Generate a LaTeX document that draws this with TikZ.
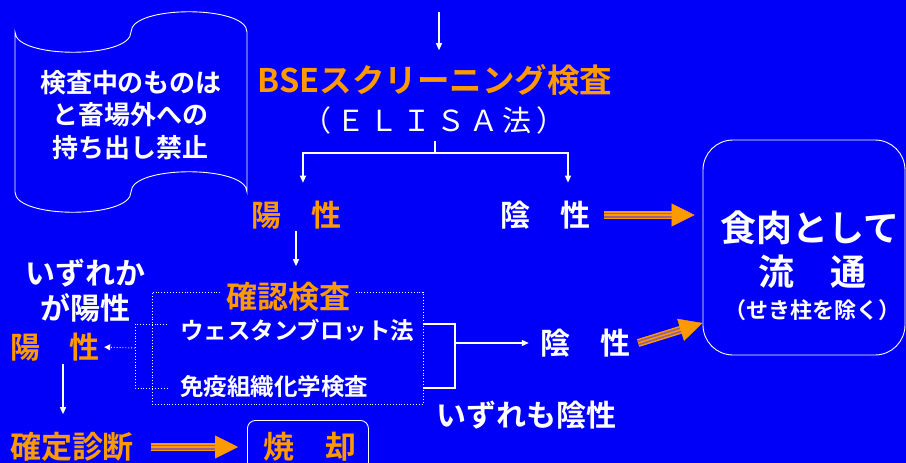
\documentclass[tikz,border=0pt]{standalone}
\usepackage{fontspec}
\newfontfamily\jp{Noto Sans CJK JP}[BoldFont={Noto Sans CJK JP Bold}]
\usetikzlibrary{arrows.meta}

\definecolor{bgblue}{RGB}{0,0,250}
\definecolor{ora}{RGB}{255,153,0}
\definecolor{stripe}{RGB}{150,95,150}

\begin{document}
\begin{tikzpicture}[x=1pt, y=-1pt,
    jt/.style 2 args={inner sep=0pt, align=center, font=\jp\bfseries\fontsize{#1}{#2}\selectfont},
    wline/.style={draw=white, line width=1.1pt},
    arr/.style={wline, -{Triangle[length=7pt,width=6pt]}},
    dotline/.style={draw=white, line width=0.9pt, dotted},
    dotarr/.style={dotline, -{Triangle[length=6pt,width=6pt]}},
    tri/.style={draw=ora, line width=1.5pt, shorten >=21pt,
        preaction={draw=ora, line width=1.5pt, double=stripe, double distance=5pt},
        postaction={draw=ora, line width=0.4pt, shorten >=0pt, -{Triangle[length=23pt,width=23pt]}}}]

% Background
\fill[bgblue] (0,0) rectangle (906,463);
\useasboundingbox (0,0) rectangle (906,463);

% Wavy note at top left
\draw[white, line width=0.9pt] (15,32) .. controls (15,59) and (131,59) .. (131,32)
    .. controls (131,5) and (247,5) .. (247,32) -- (247,192)
    .. controls (247,165) and (131,165) .. (131,192)
    .. controls (131,219) and (15,219) .. (15,192) -- cycle;
\node[jt={26}{32.5}, text=white] (rule) at (131,115) {検査中のものは\\と畜場外への\\持ち出し禁止};

% Screening
\coordinate (top) at (439,12);
\node[jt={32.5}{36}, text=ora] (bse) at (435,80) {BSEスクリーニング検査};
\node[inner sep=0pt, text=white, font=\jp\fontsize{29}{35}\selectfont\addfontfeature{LetterSpace=15}] (elisa) at (434,120) {（ＥＬＩＳＡ法）};
\draw[arr, shorten >=14pt] (top) -- (top |- bse.north);

\node[jt={30}{36}, text=ora] (pos1) at (296,215) {陽　性};
\node[jt={30}{36}, text=white] (neg1) at (545,215) {陰　性};

\coordinate (split) at (435,153);
\draw[wline] ([yshift=-7pt]split |- elisa.south) -- (split);
\draw[arr, shorten >=18pt] (split) -| ([xshift=7pt]pos1.north);
\draw[arr, shorten >=18pt] (split) -| ([xshift=23pt]neg1.north);

% Meat box
\node[draw=white, line width=0.9pt, rounded corners=30pt, minimum width=202pt, minimum height=215pt] (food) at (804,247.5) {};
\node[jt={36}{40}, text=white] (meat) at (810,228) {食肉として};
\node[jt={36}{40}, text=white] (dist) at (812,272) {流　通};
\node[jt={22}{26}, text=white] (spine) at (812,310) {（せき柱を除く）};
\draw[tri] ([xshift=14pt]neg1.east) -- ([xshift=-8pt]food.west |- neg1.east);

% Confirmation test
\node[dotline, minimum width=271pt, minimum height=112pt, inner sep=0pt] (chk) at (287.5,348) {};
\node[jt={31}{36}, text=ora, fill=bgblue, inner xsep=4pt] (kakunin) at (288,297) {確認検査};
\draw[arr, shorten <=2pt, shorten >=16pt] (pos1.south) -- (pos1.south |- kakunin.north);
\node[jt={23.5}{28}, text=white, anchor=west] (wb) at (180,330) {ウェスタンブロット法};
\node[jt={23.5}{28}, text=white, anchor=west] (ihc) at (180,387) {免疫組織化学検査};

% Positive branch
\node[jt={30}{35}, text=white] (anyp) at (86,290.5) {いずれか\\が陽性};
\node[jt={30}{36}, text=ora] (pos2) at (55,347) {陽　性};
\coordinate (wbL) at (167,324);
\coordinate (ihcL) at (167,388);
\coordinate (lb) at (135,348);
\draw[dotline] (wbL) -| (lb) |- (ihcL);
\draw[dotarr, shorten >=4pt] (lb) -- (pos2.east);

\node[jt={31}{36}, text=ora] (kakutei) at (72,447) {確定診断};
\draw[arr, shorten <=3pt, shorten >=18pt] ([xshift=8pt]pos2.south) -- ([xshift=-9pt]kakutei.north);

\node[draw=white, line width=0.9pt, rounded corners=8pt, minimum width=121pt, minimum height=70pt, anchor=north west] (burnbox) at (247,420) {};
\node[jt={31}{36}, text=ora] (burn) at (310,447) {焼　却};
\draw[tri] ([xshift=17pt]kakutei.east) -- ([xshift=-9pt]burnbox.west |- kakutei.east);

% Negative branch
\coordinate (wbR) at (423,324);
\coordinate (ihcR) at (423,388);
\coordinate (rb) at (455,343);
\draw[wline] (wbR) -| (rb) |- (ihcR);
\node[jt={30}{36}, text=white] (neg2) at (585,343) {陰　性};
\draw[arr, shorten >=11pt] (rb) -- (neg2.west);
\draw[tri] ([xshift=8pt]neg2.east) -- ([shift={(0,75.5)}]food.west);
\node[jt={30}{36}, text=white] (allneg) at (526,415) {いずれも陰性};

\end{tikzpicture}
\end{document}
